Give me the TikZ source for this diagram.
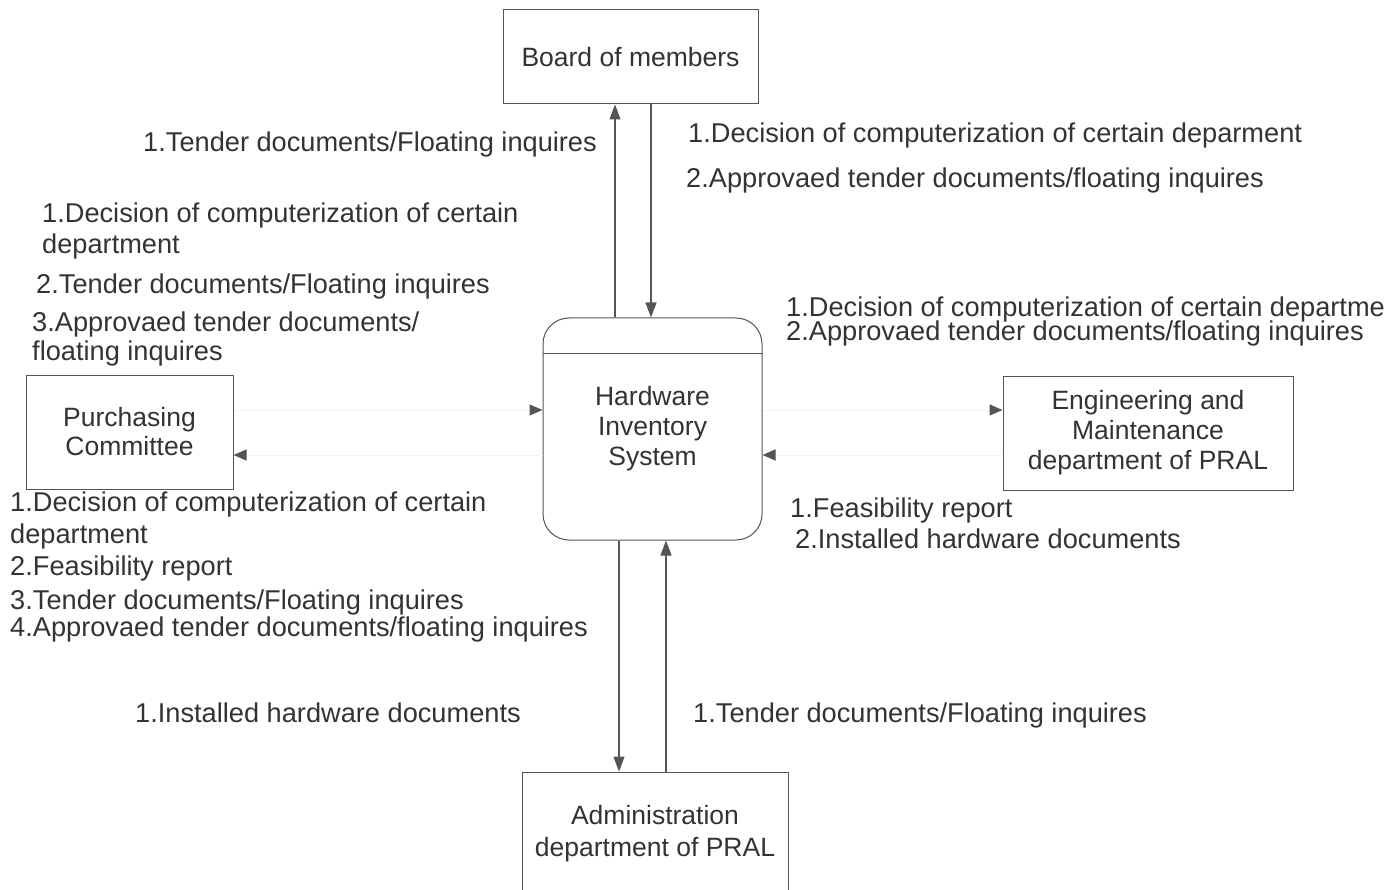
\documentclass[tikz,border=0pt]{standalone}
\usepackage{fontspec}
\setmainfont{Liberation Sans}
\usetikzlibrary{arrows.meta}
\definecolor{txt}{HTML}{333333}
\definecolor{edge}{HTML}{555555}
\definecolor{faint}{HTML}{F3F3F3}
\newcommand{\lblfont}{\fontsize{27.2}{30}\selectfont}
\newcommand{\boxfont}{\fontsize{26.5}{30}\selectfont}
\tikzset{
  lbl/.style={anchor=base west, inner sep=0pt, text=txt, font=\lblfont},
  entity/.style={draw=edge, line width=1pt, align=center, text=txt, font=\boxfont, inner sep=0pt},
  flow/.style={draw=edge, line width=1.2pt, -{Triangle[length=15pt,width=11pt]}},
  ghost/.style={draw=faint, line width=1pt, -{Triangle[length=13pt,width=11pt,color=edge]}},
}
\begin{document}
\begin{tikzpicture}[x=1pt,y=-1pt]
\useasboundingbox[fill=white] (0,0) rectangle (1386,890);
\clip (0,0) rectangle (1386,890);

% external entities and the process
\node[entity, minimum width=255pt, minimum height=94pt] (board) at (630.5,57) {Board of members};
\node[entity, minimum width=207pt, minimum height=114pt] (pc) at (129.5,432) {Purchasing\\[-1pt]Committee};
\node[entity, minimum width=290pt, minimum height=114pt] (eng) at (1148,433) {Engineering and\\[0pt]Maintenance\\[0pt]department of PRAL};
\node[entity, minimum width=266pt, minimum height=124pt] (adm) at (655,834) {Administration\\[2pt]department of PRAL};
\node[entity, rounded corners=26pt, minimum width=219pt, minimum height=222pt] (his) at (652.5,429) {Hardware\\[0pt]Inventory\\[0pt]System};
\draw[edge, line width=1pt] ([yshift=-36pt]his.north west) -- ([yshift=-36pt]his.north east);

% anchor points of the vertical flows
\coordinate (bUp) at ([xshift=-15.5pt]board.south);
\coordinate (bDn) at ([xshift=20.5pt]board.south);
\coordinate (aDn) at ([xshift=-36pt]adm.north);
\coordinate (aUp) at ([xshift=11pt]adm.north);
% anchor points of the horizontal flows
\coordinate (pOut) at ([yshift=22pt]pc.east);
\coordinate (pIn) at ([yshift=-23pt]pc.east);
\coordinate (eIn) at ([yshift=23pt]eng.west);
\coordinate (eOut) at ([yshift=-22pt]eng.west);

% flows
\draw[flow] (bUp |- his.north) -- (bUp);
\draw[flow] (bDn) -- (bDn |- his.north);
\draw[flow] (aDn |- his.south) -- (aDn);
\draw[flow] (aUp) -- (aUp |- his.south);
\draw[ghost] (pOut) -- (pOut -| his.west);
\draw[ghost] (pIn -| his.west) -- (pIn);
\draw[ghost] (eOut) -- (eOut -| his.east);
\draw[ghost] (eIn -| his.east) -- (eIn);

% labels: board of members
\node[lbl] (t1) at (143,152) {1.Tender documents/Floating inquires};
\node[lbl] (t2) at (688,143) {1.Decision of computerization of certain deparment};
\node[lbl] (t3) at (686,188) {2.Approvaed tender documents/floating inquires};

% labels: purchasing committee, inbound
\node[lbl] (p1) at (42,223) {1.Decision of computerization of certain};
\node[lbl] (p2) at (42,254) {department};
\node[lbl] (p3) at (36,294) {2.Tender documents/Floating inquires};
\node[lbl] (p4) at (32,331) {3.Approvaed tender documents/};
\node[lbl] (p5) at (32,360) {floating inquires};

% labels: purchasing committee, outbound
\node[lbl] (q1) at (10,511) {1.Decision of computerization of certain};
\node[lbl] (q2) at (10,543) {department};
\node[lbl] (q3) at (10,575) {2.Feasibility report};
\node[lbl] (q4) at (10,609) {3.Tender documents/Floating inquires};
\node[lbl] (q5) at (10,636) {4.Approvaed tender documents/floating inquires};

% labels: engineering and maintenance
\node[lbl] (e1) at (786,317) {1.Decision of computerization of certain departme};
\node[lbl] (e2) at (786,341) {2.Approvaed tender documents/floating inquires};
\node[lbl] (e3) at (790,517) {1.Feasibility report};
\node[lbl] (e4) at (795,548) {2.Installed hardware documents};

% labels: administration
\node[lbl] (a1) at (135,722) {1.Installed hardware documents};
\node[lbl] (a2) at (693,722) {1.Tender documents/Floating inquires};
\end{tikzpicture}
\end{document}
